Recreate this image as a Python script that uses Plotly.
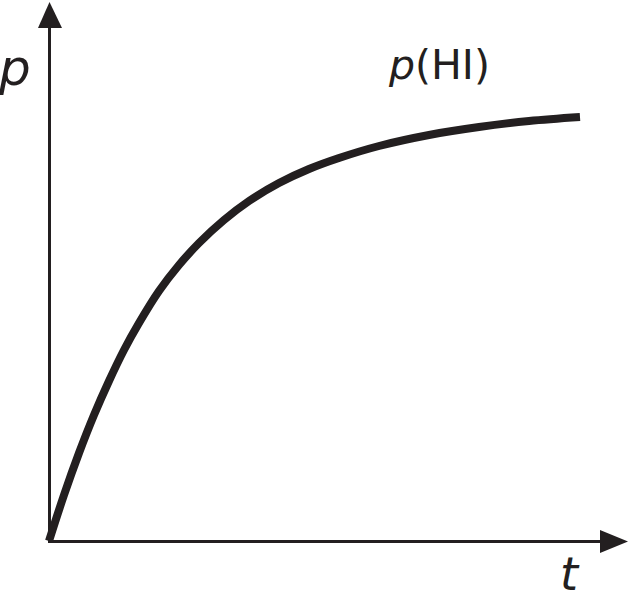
import plotly.graph_objects as go

# Curve values (t, p in arbitrary units)
t_vals = [0, 15, 30, 45, 60, 75, 90, 110, 130, 150, 175, 200, 230, 260, 290, 330, 380, 430, 480, 531]
p_vals = [0, 46, 88, 126, 160, 191, 218, 250, 276, 298, 321, 340, 358, 372, 383, 395, 406, 414, 420, 424]

axis_labels = {"y": "p", "x": "t"}
curve_label = "<i>p</i>(HI)"

INK = "#231f20"

fig = go.Figure()
fig.add_trace(go.Scatter(
    x=t_vals, y=p_vals, mode="lines",
    line=dict(color=INK, width=8, shape="spline", smoothing=1.0),
    hoverinfo="skip", showlegend=False,
))

shapes = [
    # y axis
    dict(type="line", x0=0.5, y0=-2, x1=0.5, y1=515, line=dict(color=INK, width=3)),
    dict(type="path", path="M 0.5 539 L -11 513 L 13 513 Z", fillcolor=INK, line=dict(width=0)),
    # x axis
    dict(type="line", x0=-1, y0=-0.5, x1=553, y1=-0.5, line=dict(color=INK, width=3)),
    dict(type="path", path="M 579 -0.5 L 551 11 L 551 -12 Z", fillcolor=INK, line=dict(width=0)),
]

fam = "DejaVu Sans, Liberation Sans, Arial, sans-serif"
annotations = [
    dict(x=-34.5, y=473, text="<i>%s</i>" % axis_labels["y"], showarrow=False, borderpad=0,
         xanchor="center", yanchor="middle", font=dict(family=fam, size=50, color=INK)),
    dict(x=338, y=476, text=curve_label, showarrow=False, borderpad=0,
         xanchor="left", yanchor="middle", font=dict(family=fam, size=41, color=INK)),
    dict(x=521, y=-33, text="<i>%s</i>" % axis_labels["x"], showarrow=False, borderpad=0,
         xanchor="center", yanchor="middle", font=dict(family=fam, size=46, color=INK)),
]

fig.update_layout(
    width=630, height=600,
    margin=dict(l=0, r=0, t=0, b=0),
    paper_bgcolor="white", plot_bgcolor="white",
    xaxis=dict(range=[-49, 581], visible=False, fixedrange=True),
    yaxis=dict(range=[-59, 541], visible=False, fixedrange=True),
    shapes=shapes, annotations=annotations,
)

fig.write_html(
    "out.html",
    config={"staticPlot": True},
    post_script="document.body.style.margin='0';document.body.style.overflow='hidden';",
)
